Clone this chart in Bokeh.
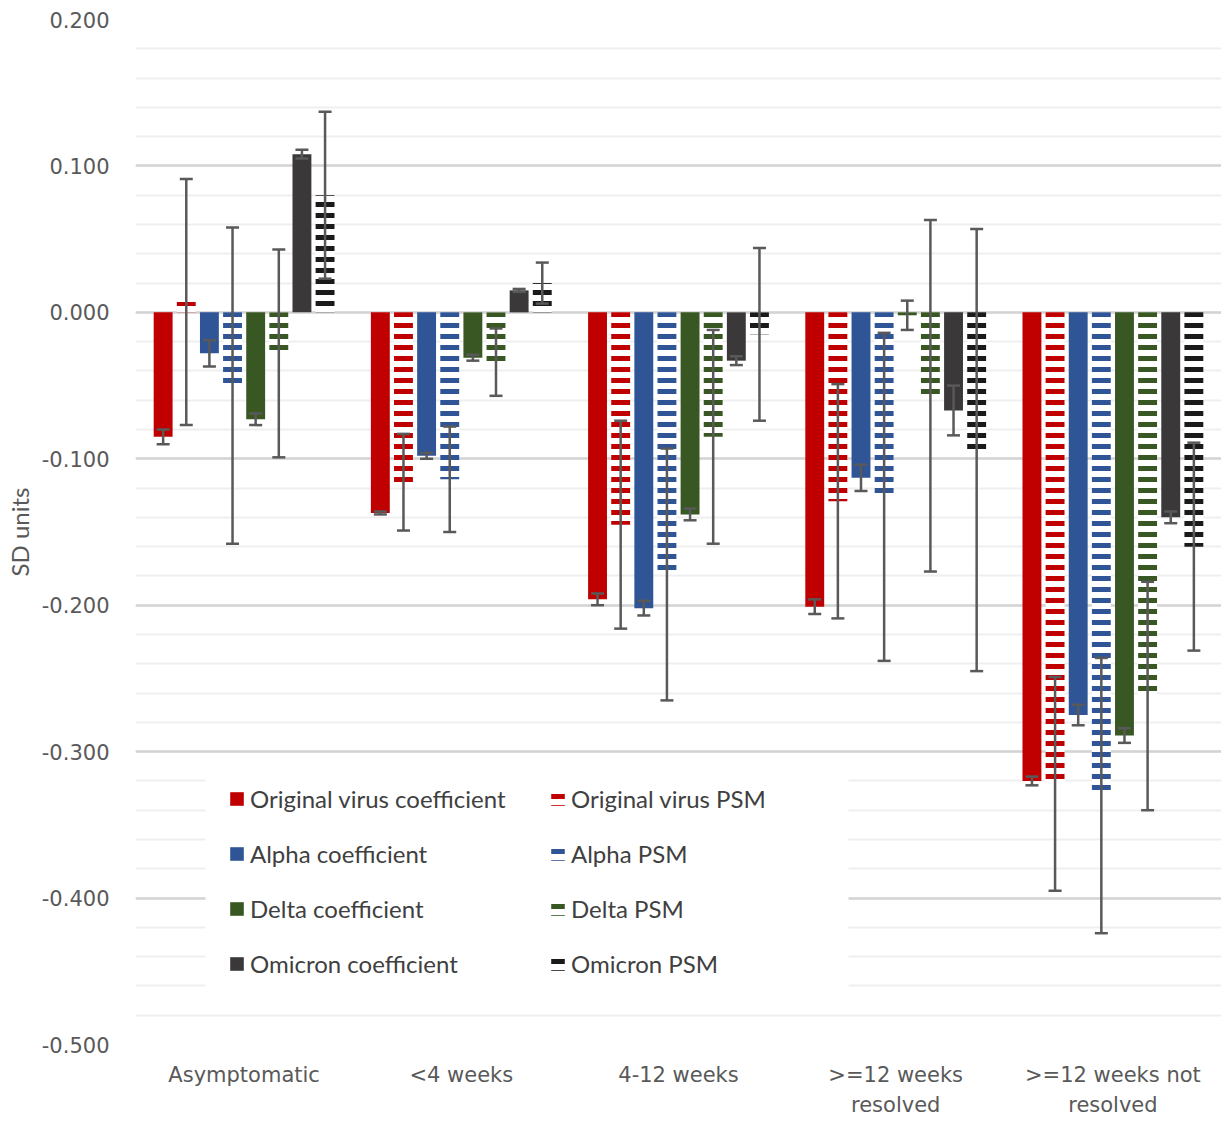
import numpy as np
from bokeh.plotting import figure
from bokeh.models import (Range1d, FixedTicker, PrintfTickFormatter, Whisker, TeeHead,
                          ColumnDataSource, Legend, LegendItem, BoxAnnotation)
from bokeh.embed import file_html
from bokeh.resources import INLINE

categories = ["Asymptomatic", "<4 weeks", "4-12 weeks", ">=12 weeks\nresolved", ">=12 weeks not\nresolved"]

orig_coef = [-0.085, -0.137, -0.196, -0.201, -0.320]
orig_coef_err = [0.005, 0.001, 0.004, 0.005, 0.003]
orig_psm = [0.007, -0.116, -0.145, -0.129, -0.322]
orig_psm_err = [0.084, 0.033, 0.071, 0.080, 0.073]
alpha_coef = [-0.028, -0.098, -0.202, -0.113, -0.275]
alpha_coef_err = [0.009, 0.002, 0.005, 0.009, 0.007]
alpha_psm = [-0.050, -0.114, -0.179, -0.126, -0.330]
alpha_psm_err = [0.108, 0.036, 0.086, 0.112, 0.094]
delta_coef = [-0.073, -0.031, -0.138, -0.002, -0.289]
delta_coef_err = [0.004, 0.002, 0.004, 0.010, 0.005]
delta_psm = [-0.028, -0.034, -0.085, -0.057, -0.262]
delta_psm_err = [0.071, 0.023, 0.073, 0.120, 0.078]
omicron_coef = [0.108, 0.015, -0.033, -0.067, -0.140]
omicron_coef_err = [0.003, 0.001, 0.003, 0.017, 0.004]
omicron_psm = [0.080, 0.020, -0.015, -0.094, -0.160]
omicron_psm_err = [0.057, 0.014, 0.059, 0.151, 0.071]

y_ticks = [-0.5, -0.4, -0.3, -0.2, -0.1, 0.0, 0.1, 0.2]

series = [
    ("Original virus coefficient", orig_coef, orig_coef_err, "#C00000", False),
    ("Original virus PSM", orig_psm, orig_psm_err, "#C00000", True),
    ("Alpha coefficient", alpha_coef, alpha_coef_err, "#2F5597", False),
    ("Alpha PSM", alpha_psm, alpha_psm_err, "#2F5597", True),
    ("Delta coefficient", delta_coef, delta_coef_err, "#385723", False),
    ("Delta PSM", delta_psm, delta_psm_err, "#385723", True),
    ("Omicron coefficient", omicron_coef, omicron_coef_err, "#3A3838", False),
    ("Omicron PSM", omicron_psm, omicron_psm_err, "#1A1A1A", True),
]

p = figure(width=1221, height=1122, output_backend="svg", toolbar_location=None,
           x_range=Range1d(0, 5), y_range=Range1d(-0.5, 0.2),
           min_border_left=135, min_border_right=0, min_border_top=19, min_border_bottom=78)
p.outline_line_color = None
p.background_fill_color = "white"

# white panel behind the legend (hides grid lines like the original)
p.add_layout(BoxAnnotation(left=205, right=848, top=765, bottom=993,
                           left_units="canvas", right_units="canvas",
                           top_units="canvas", bottom_units="canvas",
                           fill_color="white", fill_alpha=1.0, line_color=None))

group_x = np.arange(len(categories)) + 0.5
slot = 0.1065
bar_w = 0.087

renderers = []
for i, (name, vals, errs, color, psm) in enumerate(series):
    vals = np.array(vals)
    errs = np.array(errs)
    x = group_x + (i - 3.5) * slot
    src = ColumnDataSource(dict(x=x, top=vals, lo=vals - errs, hi=vals + errs))
    if psm:
        r = p.vbar(x="x", top="top", bottom=0, width=bar_w, source=src,
                   fill_color="white", line_color=None,
                   hatch_pattern="horizontal_line", hatch_color=color,
                   hatch_scale=11, hatch_weight=5)
    else:
        r = p.vbar(x="x", top="top", bottom=0, width=bar_w, source=src,
                   fill_color=color, line_color=None)
    renderers.append(r)
    wh = Whisker(base="x", upper="hi", lower="lo", source=src, dimension="height",
                 line_color="#595959", line_width=2.5, level="overlay",
                 upper_head=TeeHead(size=13, line_color="#595959", line_width=2.5),
                 lower_head=TeeHead(size=13, line_color="#595959", line_width=2.5))
    p.add_layout(wh)

# axes
p.yaxis.ticker = FixedTicker(ticks=y_ticks,
                             minor_ticks=[round(-0.5 + 0.02 * k, 2) for k in range(36)])
p.yaxis.formatter = PrintfTickFormatter(format="%.3f")
p.yaxis.axis_line_color = None
p.yaxis.major_tick_line_color = None
p.yaxis.minor_tick_line_color = None
p.yaxis.major_label_standoff = 20
p.yaxis.major_label_text_font = "DejaVu Sans"
p.yaxis.major_label_text_font_size = "21px"
p.yaxis.major_label_text_color = "#595959"
p.yaxis.axis_label = "SD units"
p.yaxis.axis_label_text_font = "Lato"
p.yaxis.axis_label_text_font_style = "normal"
p.yaxis.axis_label_text_font_size = "24px"
p.yaxis.axis_label_text_color = "#595959"
p.yaxis.axis_label_standoff = 5

p.xaxis.ticker = FixedTicker(ticks=list(group_x))
p.xaxis.major_label_overrides = {float(gx): c for gx, c in zip(group_x, categories)}
p.xaxis.axis_line_color = None
p.xaxis.major_tick_line_color = None
p.xaxis.minor_tick_line_color = None
p.xaxis.major_label_standoff = 12
p.xaxis.major_label_text_font = "DejaVu Sans"
p.xaxis.major_label_text_font_size = "21px"
p.xaxis.major_label_text_color = "#595959"
p.xaxis.major_label_text_line_height = 1.26

p.xgrid.grid_line_color = None
p.ygrid.grid_line_color = "#D4D4D4"
p.ygrid.grid_line_width = 2.5
p.ygrid.minor_grid_line_color = "#EFEFEF"
p.ygrid.minor_grid_line_width = 2

common = dict(padding=0, spacing=26, glyph_width=17, glyph_height=17, label_standoff=5,
              label_height=26, label_text_font="Lato", label_text_font_size="24px",
              label_text_color="#404040", background_fill_color="white",
              background_fill_alpha=1.0, border_line_color=None, margin=0)
leg1 = Legend(items=[LegendItem(label=series[k][0], renderers=[renderers[k]]) for k in (0, 2, 4, 6)],
              location=(93, 66), **common)
leg2 = Legend(items=[LegendItem(label=series[k][0], renderers=[renderers[k]]) for k in (1, 3, 5, 7)],
              location=(414, 66), **common)
p.add_layout(leg1, "center")
p.add_layout(leg2, "center")

open("out.html", "w").write(file_html(p, INLINE))
